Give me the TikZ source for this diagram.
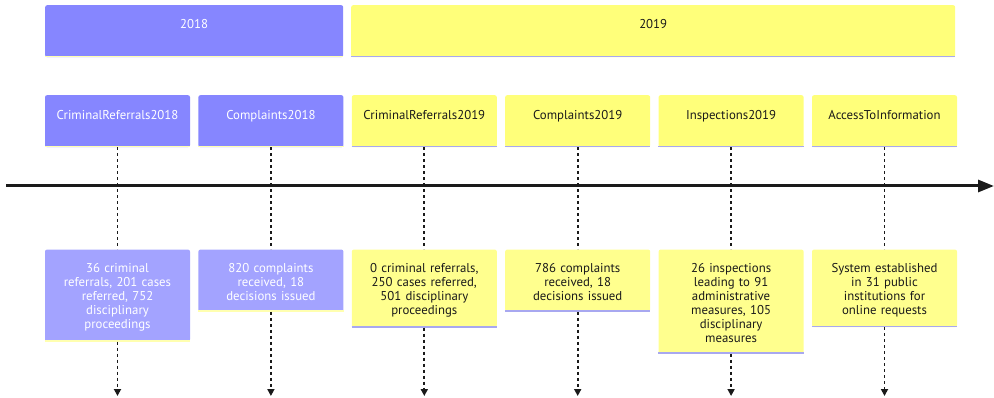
\documentclass[tikz,border=0pt]{standalone}
\usepackage{fontspec}
\setmainfont{PT Sans}
\usetikzlibrary{arrows.meta,positioning}
\definecolor{lav}{HTML}{8686FF}
\definecolor{lavlt}{HTML}{A3A3FF}
\definecolor{lemon}{HTML}{FFFF7A}
\definecolor{lemonlt}{HTML}{FFFF8E}
\definecolor{lavline}{HTML}{A8A8F0}
\definecolor{lemonline}{HTML}{FFFFB0}
\definecolor{ink}{HTML}{1A1A1A}
\tikzset{
  secbox/.style={
    rectangle, rounded corners=2pt, fill=#1, inner sep=0pt,
    text height=23pt, text depth=29pt,
    font=\fontsize{12.8}{14}\selectfont
  },
  taskbox/.style={
    rectangle, rounded corners=2pt, fill=#1, inner sep=0pt,
    minimum width=145pt, text height=24pt, text depth=28pt,
    font=\fontsize{12.8}{14}\selectfont
  },
  eventbox/.style={
    rectangle, rounded corners=2pt, fill=#1, inner xsep=0pt, inner ysep=10pt,
    text width=145pt, align=center,
    font=\fontsize{12.8}{14}\selectfont,
    execute at begin node={\rule{0pt}{13pt}},
    execute at end node={\rule[-1pt]{0pt}{1pt}}
  },
  baseline/.style={line width=1.6pt, draw=#1},
  vline/.style={line width=1.8pt, draw=ink, dash pattern=on 3pt off 3pt},
  axisline/.style={line width=3pt, draw=ink, -{Triangle[length=16pt,width=12pt]}},
}
\begin{document}
\begin{tikzpicture}[x=1pt,y=-1pt]
\useasboundingbox (0,0) rectangle (994,398);

% sections
\node[secbox=lav, minimum width=298pt, anchor=north west, text=white] (s2018) at (45,5) {2018};
\node[secbox=lemon, minimum width=604pt, anchor=north west, text=ink] (s2019) at (351,5) {2019};
\draw[baseline=lemonline] ([yshift=0.8pt]s2018.south west) -- ([yshift=0.8pt]s2018.south east);
\draw[baseline=lavline] ([yshift=0.8pt]s2019.south west) -- ([yshift=0.8pt]s2019.south east);

% tasks
\node[taskbox=lav, text=white, anchor=north] (crim18) at (117.5,95) {CriminalReferrals2018};
\node[taskbox=lav, text=white, right=8pt of crim18] (comp18) {Complaints2018};
\node[taskbox=lemon, text=ink, right=8pt of comp18] (crim19) {CriminalReferrals2019};
\node[taskbox=lemon, text=ink, right=8pt of crim19] (comp19) {Complaints2019};
\node[taskbox=lemon, text=ink, right=8pt of comp19] (insp19) {Inspections2019};
\node[taskbox=lemon, text=ink, right=8pt of insp19] (access) {AccessToInformation};
\foreach \n in {crim18,comp18}
  \draw[baseline=lemonline] ([yshift=0.8pt]\n.south west) -- ([yshift=0.8pt]\n.south east);
\foreach \n in {crim19,comp19,insp19,access}
  \draw[baseline=lavline] ([yshift=0.8pt]\n.south west) -- ([yshift=0.8pt]\n.south east);

% events
\node[eventbox=lavlt, text=white, below=102pt of crim18] (ev1) {36 criminal\\referrals, 201 cases\\referred, 752\\disciplinary\\proceedings};
\node[eventbox=lavlt, text=white, below=102pt of comp18] (ev2) {820 complaints\\received, 18\\decisions issued};
\node[eventbox=lemonlt, text=ink, below=102pt of crim19] (ev3) {0 criminal referrals,\\250 cases referred,\\501 disciplinary\\proceedings};
\node[eventbox=lemonlt, text=ink, below=102pt of comp19] (ev4) {786 complaints\\received, 18\\decisions issued};
\node[eventbox=lemonlt, text=ink, below=102pt of insp19] (ev5) {26 inspections\\leading to 91\\administrative\\measures, 105\\disciplinary\\measures};
\node[eventbox=lemonlt, text=ink, below=102pt of access] (ev6) {System established\\in 31 public\\institutions for\\online requests};
\foreach \n in {ev1,ev2}
  \draw[baseline=lemonline] ([yshift=0.8pt]\n.south west) -- ([yshift=0.8pt]\n.south east);
\foreach \n in {ev3,ev4,ev5,ev6}
  \draw[baseline=lavline] ([yshift=0.8pt]\n.south west) -- ([yshift=0.8pt]\n.south east);

% time axis
\coordinate (axstart) at (6,186);
\coordinate (axend) at (994,186);
\draw[axisline] (axstart) -- (axend);

% connectors
\foreach \t/\e in {crim18/ev1,comp18/ev2,crim19/ev3,comp19/ev4,insp19/ev5,access/ev6}{
  \coordinate (\e end) at (\e.south |- 0,396);
  \draw[vline] (\t.south) -- (\e.north);
  \draw[vline, -{Triangle[length=7pt,width=7pt]}] (\e.south) -- (\e end);
}
\end{tikzpicture}
\end{document}
